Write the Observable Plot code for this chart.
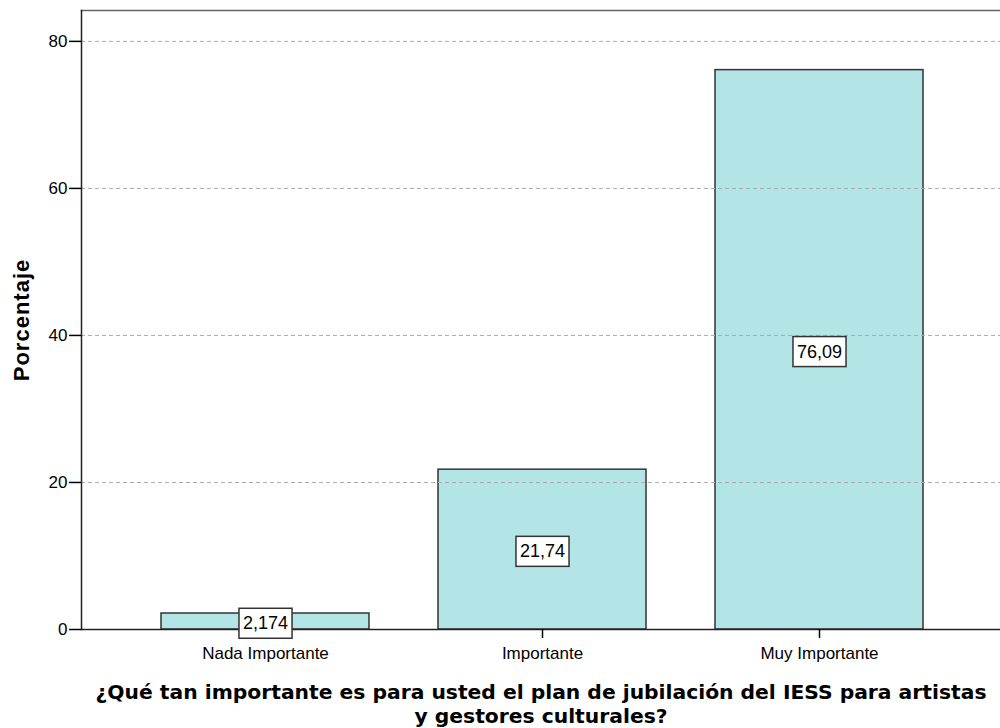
<!DOCTYPE html>
<html>
<head>
<meta charset="utf-8">
<script src="https://cdn.jsdelivr.net/npm/d3@7"></script>
<script src="https://cdn.jsdelivr.net/npm/@observablehq/plot@0.6"></script>
<style>
  html, body { margin: 0; padding: 0; background: #fff; overflow: hidden; }
</style>
</head>
<body>
<script>
const categories = ["Nada Importante", "Importante", "Muy Importante"];
const percentages = [2.174, 21.74, 76.09];
const valueLabels = ["2,174", "21,74", "76,09"];
const yTicks = [0, 20, 40, 60, 80];
const gridTicks = [20, 40, 60, 80];
const yLabel = "Porcentaje";
const xTitle = "¿Qué tan importante es para usted el plan de jubilación del IESS para artistas\ny gestores culturales?";

const data = categories.map((c, i) => ({cat: c, pct: percentages[i], label: valueLabels[i]}));

const chart = Plot.plot({
  width: 1000,
  height: 728,
  marginLeft: 81,
  marginRight: 0,
  marginTop: 10,
  marginBottom: 99,
  style: {fontFamily: "'Liberation Sans', Arial, sans-serif", fontSize: "17px", color: "#000", background: "#fff"},
  x: {domain: categories, range: [81, 1003.7], paddingInner: 0.25, paddingOuter: 0.29, label: null},
  y: {domain: [0, 84.2], label: null},
  marks: [
    Plot.barY(data, {x: "cat", y: "pct", fill: "#b3e5e6", stroke: "#333", strokeWidth: 1.5}),
    Plot.gridY(gridTicks, {stroke: "#aaa", strokeOpacity: 1, strokeDasharray: "4,3", strokeWidth: 1}),
    Plot.frame({anchor: "top", stroke: "#666", strokeWidth: 1.5}),
    Plot.frame({anchor: "left", stroke: "#222", strokeWidth: 1.5}),
    Plot.ruleY([0], {stroke: "#222", strokeWidth: 1.5}),
    Plot.axisY(yTicks, {tickSize: 12, tickPadding: 2, fontSize: 17, label: null, strokeWidth: 1.5}),
    Plot.axisX({tickSize: 9, tickPadding: 8, fontSize: 17, label: null, strokeWidth: 1.5}),
    Plot.text([xTitle], {frameAnchor: "bottom", lineAnchor: "top", dy: 52, lineHeight: 1.2,
      fontFamily: "'DejaVu Sans', sans-serif", fontWeight: "bold", fontSize: 20.3, fill: "#000"}),
    Plot.text([yLabel], {frameAnchor: "left", textAnchor: "middle", rotate: -90, dx: -60, fontWeight: "bold", fontSize: 22, fill: "#000"}),
    Plot.text(data, {x: "cat", y: d => d.pct / 2, text: "label", fontSize: 18, fill: "#000", dy: 2})
  ]
});

document.body.append(chart);

// letter spacing for the rotated y label
d3.select(chart).selectAll("text").filter(function() { return this.textContent === yLabel; })
  .style("letter-spacing", "1px");

// boxed value labels
d3.select(chart).selectAll("text").filter(function() { return valueLabels.includes(this.textContent); }).each(function() {
  const bb = this.getBBox();
  const padX = 4, padY = 5;
  const r = document.createElementNS("http://www.w3.org/2000/svg", "rect");
  r.setAttribute("x", bb.x - padX);
  r.setAttribute("y", bb.y - padY);
  r.setAttribute("width", bb.width + 2 * padX);
  r.setAttribute("height", bb.height + 2 * padY);
  r.setAttribute("fill", "#fff");
  r.setAttribute("stroke", "#333");
  r.setAttribute("stroke-width", "1.5");
  const t = this.getAttribute("transform");
  if (t) r.setAttribute("transform", t);
  this.parentNode.insertBefore(r, this);
});
</script>
</body>
</html>
